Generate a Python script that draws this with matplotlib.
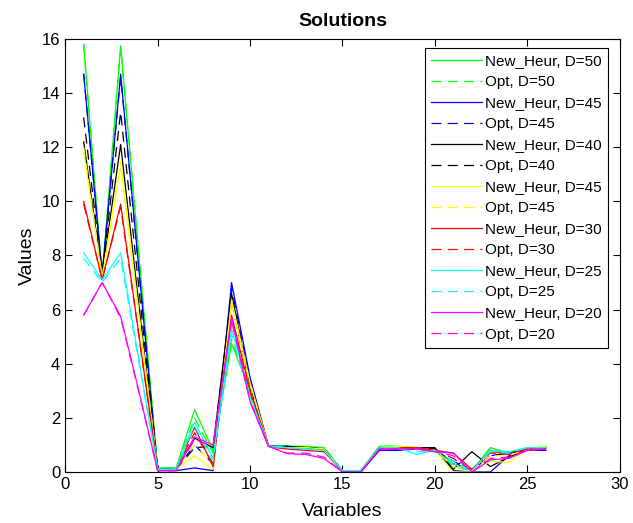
import matplotlib.pyplot as plt
import numpy as np

plt.rcParams['font.family'] = ['Liberation Sans', 'DejaVu Sans']

x = np.arange(1, 27)

# New_Heur / Opt solutions for each D
green_heur = [15.8, 7.2, 15.75, 7.9, 0.15, 0.15, 2.3, 0.8, 4.75, 3.0, 0.95, 0.95, 0.95, 0.9, 0.05, 0.05,
              0.95, 0.95, 0.9, 0.85, 0.3, 0.05, 0.9, 0.7, 0.85, 0.95]
green_opt = [15.8, 7.2, 15.7, 7.9, 0.15, 0.15, 2.0, 0.7, 4.9, 2.9, 0.95, 0.95, 0.9, 0.9, 0.05, 0.05,
             0.95, 0.95, 0.9, 0.85, 0.2, 0.05, 0.85, 0.7, 0.85, 0.95]
blue_heur = [14.7, 7.3, 14.7, 7.4, 0.05, 0.05, 0.15, 0.05, 7.0, 3.5, 0.95, 0.9, 0.9, 0.85, 0.0, 0.0,
             0.8, 0.8, 0.85, 0.85, 0.05, 0.0, 0.0, 0.6, 0.8, 0.8]
blue_opt = [14.7, 7.3, 14.6, 7.35, 0.1, 0.1, 1.0, 0.3, 6.8, 3.4, 0.95, 0.9, 0.9, 0.85, 0.05, 0.05,
            0.85, 0.85, 0.85, 0.8, 0.4, 0.05, 0.6, 0.7, 0.8, 0.85]
black_heur = [12.2, 7.3, 12.1, 6.1, 0.1, 0.1, 1.25, 0.9, 6.6, 3.2, 0.95, 0.95, 0.9, 0.85, 0.05, 0.05,
              0.9, 0.9, 0.9, 0.9, 0.1, 0.75, 0.2, 0.55, 0.85, 0.9]
black_opt = [13.1, 7.3, 13.3, 6.7, 0.1, 0.1, 0.9, 0.95, 6.3, 3.1, 0.95, 0.95, 0.9, 0.85, 0.05, 0.05,
             0.9, 0.9, 0.9, 0.85, 0.3, 0.1, 0.6, 0.7, 0.85, 0.9]
yellow_heur = [11.8, 7.2, 11.3, 5.7, 0.1, 0.1, 0.6, 0.1, 6.35, 3.3, 0.95, 0.9, 0.9, 0.85, 0.05, 0.05,
               0.9, 0.95, 0.9, 0.8, 0.0, 0.0, 0.4, 0.35, 0.85, 0.95]
yellow_opt = [12.0, 7.2, 11.5, 5.8, 0.1, 0.1, 1.0, 0.3, 6.2, 3.2, 0.95, 0.9, 0.9, 0.85, 0.05, 0.05,
              0.9, 0.95, 0.9, 0.8, 0.2, 0.05, 0.6, 0.6, 0.85, 0.95]
red_heur = [10.0, 7.1, 9.9, 5.0, 0.1, 0.1, 1.65, 0.2, 5.8, 3.0, 0.95, 0.85, 0.8, 0.75, 0.05, 0.05,
            0.9, 0.9, 0.9, 0.8, 0.7, 0.1, 0.75, 0.7, 0.85, 0.9]
red_opt = [9.9, 7.1, 9.8, 4.95, 0.1, 0.1, 1.45, 0.3, 5.6, 2.9, 0.95, 0.85, 0.85, 0.8, 0.05, 0.05,
           0.9, 0.9, 0.9, 0.8, 0.5, 0.05, 0.7, 0.65, 0.85, 0.9]
cyan_heur = [8.1, 7.1, 8.1, 4.1, 0.1, 0.1, 1.85, 0.5, 5.3, 2.8, 0.95, 0.9, 0.85, 0.8, 0.05, 0.05,
             0.9, 0.9, 0.65, 0.8, 0.3, 0.05, 0.8, 0.75, 0.9, 0.9]
cyan_opt = [7.9, 7.0, 7.9, 4.0, 0.1, 0.1, 1.7, 0.4, 5.1, 2.7, 0.95, 0.9, 0.85, 0.8, 0.05, 0.05,
            0.9, 0.9, 0.75, 0.8, 0.4, 0.05, 0.75, 0.7, 0.9, 0.9]
magenta_heur = [5.8, 7.0, 5.75, 2.95, 0.05, 0.05, 1.3, 1.0, 5.7, 2.6, 0.95, 0.68, 0.65, 0.5, 0.0, 0.0,
                0.85, 0.85, 0.85, 0.75, 0.7, 0.0, 0.45, 0.5, 0.8, 0.85]
magenta_opt = [5.8, 7.0, 5.7, 2.9, 0.05, 0.05, 1.2, 0.95, 5.6, 2.6, 0.95, 0.7, 0.7, 0.55, 0.0, 0.0,
               0.85, 0.85, 0.85, 0.75, 0.6, 0.0, 0.5, 0.55, 0.8, 0.85]

series = [
    (green_heur, green_opt, (0, 1, 0), '50'),
    (blue_heur, blue_opt, (0, 0, 1), '45'),
    (black_heur, black_opt, (0, 0, 0), '40'),
    (yellow_heur, yellow_opt, (1, 1, 0), '45'),
    (red_heur, red_opt, (1, 0, 0), '30'),
    (cyan_heur, cyan_opt, (0, 1, 1), '25'),
    (magenta_heur, magenta_opt, (1, 0, 1), '20'),
]

fig = plt.figure(figsize=(6.33, 5.23), dpi=100)
ax = fig.add_axes([0.103, 0.0975, 0.876, 0.828])

for heur, opt, col, d in series:
    ax.plot(x, heur, '-', color=col, lw=0.9, label='New_Heur, D=' + d)
    ax.plot(x, opt, '--', color=col, lw=0.9, dashes=(8, 5), label='Opt, D=' + d)

ax.set_xlim(0, 30)
ax.set_ylim(0, 16)
ax.set_xticks(range(0, 31, 5))
ax.set_yticks(range(0, 17, 2))
ax.tick_params(direction='in', top=True, right=True, labelsize=12, length=5)
ax.set_xlabel('Variables', fontsize=14, labelpad=8)
ax.set_ylabel('Values', fontsize=14, labelpad=4)
ax.set_title('Solutions', fontsize=14, fontweight='bold', pad=9)

leg = ax.legend(loc='upper right', bbox_to_anchor=(0.978, 0.979), fontsize=11,
                fancybox=False, framealpha=1, edgecolor='black', borderaxespad=0,
                handlelength=3.3, labelspacing=0.46, borderpad=0.4, handletextpad=0.2)
leg.get_frame().set_linewidth(0.8)

fig.savefig('out.png', dpi=100)
